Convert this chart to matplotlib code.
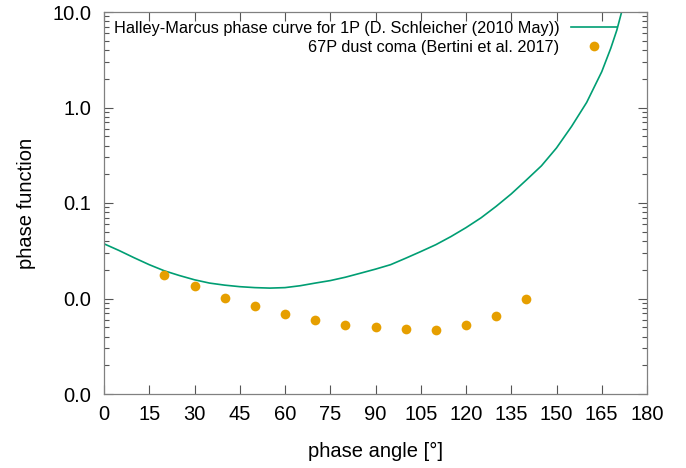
import numpy as np
import matplotlib
matplotlib.use('Agg')
import matplotlib.pyplot as plt
from matplotlib.ticker import FixedLocator, FixedFormatter, LogLocator, NullFormatter

plt.rcParams['font.family'] = ['Liberation Sans', 'DejaVu Sans']

# Halley-Marcus curve
hm_angle = [0, 5, 10, 15, 20, 25, 30, 35, 40, 45, 50, 55, 60, 65, 70, 75,
            80, 85, 90, 95, 100, 105, 110, 115, 120, 125, 130, 135, 140,
            145, 150, 155, 160, 165, 168, 170, 172]
hm_phase = [0.0374, 0.0318, 0.0267, 0.0226, 0.0195, 0.0174, 0.0157, 0.0145,
            0.0138, 0.0133, 0.0130, 0.01285, 0.0130, 0.0136, 0.0145, 0.0154,
            0.0167, 0.0184, 0.0203, 0.0226, 0.0264, 0.0310, 0.0366, 0.0445,
            0.0552, 0.0700, 0.0923, 0.1245, 0.174, 0.245, 0.377, 0.634,
            1.13, 2.37, 4.18, 6.46, 11.2]

# 67P dust coma points
coma_angle = [20, 30, 40, 50, 60, 70, 80, 90, 100, 110, 120, 130, 140]
coma_phase = [0.0177, 0.01346, 0.0102, 0.00832, 0.00687, 0.00589, 0.00526,
              0.0050, 0.00482, 0.00470, 0.00526, 0.00648, 0.00977]

xticks = list(range(0, 181, 15))
yticks = [0.001, 0.01, 0.1, 1.0, 10.0]
ylabels = ['0.0', '0.0', '0.1', '1.0', '10.0']

fig = plt.figure(figsize=(6.86, 4.68), dpi=100)
ax = fig.add_axes([104/686, 1-394/468, 543/686, 382/468])

ax.plot(hm_angle, hm_phase, color='#009e73', lw=1.2,
        label='Halley-Marcus phase curve for 1P (D. Schleicher (2010 May))')
ax.plot(coma_angle, coma_phase, 'o', color='#e69f00', ms=7, mec='none',
        label='67P dust coma (Bertini et al. 2017)')

ax.set_yscale('log')
ax.set_xlim(0, 180)
ax.set_ylim(0.001, 10)
ax.xaxis.set_major_locator(FixedLocator(xticks))
ax.yaxis.set_major_locator(FixedLocator(yticks))
ax.yaxis.set_major_formatter(FixedFormatter(ylabels))
ax.yaxis.set_minor_locator(LogLocator(base=10, subs=np.arange(2, 10)))
ax.yaxis.set_minor_formatter(NullFormatter())

for s in ax.spines.values():
    s.set_color('#808080')
    s.set_linewidth(0.9)
ax.tick_params(which='major', direction='in', length=6.3, width=0.8,
               color='#555555', labelsize=14.5, top=True, right=True)
ax.tick_params(axis='x', which='major', pad=8)
ax.tick_params(axis='y', which='major', pad=9)
ax.tick_params(which='minor', direction='in', length=3.4, width=0.8,
               color='#555555', top=True, right=True)

ax.set_xlabel('phase angle [°]', fontsize=14.5, labelpad=13)
ax.set_ylabel('phase function', fontsize=14.5, labelpad=12)

leg = ax.legend(loc='upper right', frameon=False, fontsize=11.67,
                markerfirst=False, handlelength=2.85, handletextpad=0.7,
                borderpad=0, borderaxespad=0, labelspacing=0.22,
                bbox_to_anchor=((617-104)/543, (394-21)/382))
for t in leg.get_texts():
    t.set_ha('right')
leg._legend_box.align = 'right'

fig.savefig('out.png', dpi=100)
